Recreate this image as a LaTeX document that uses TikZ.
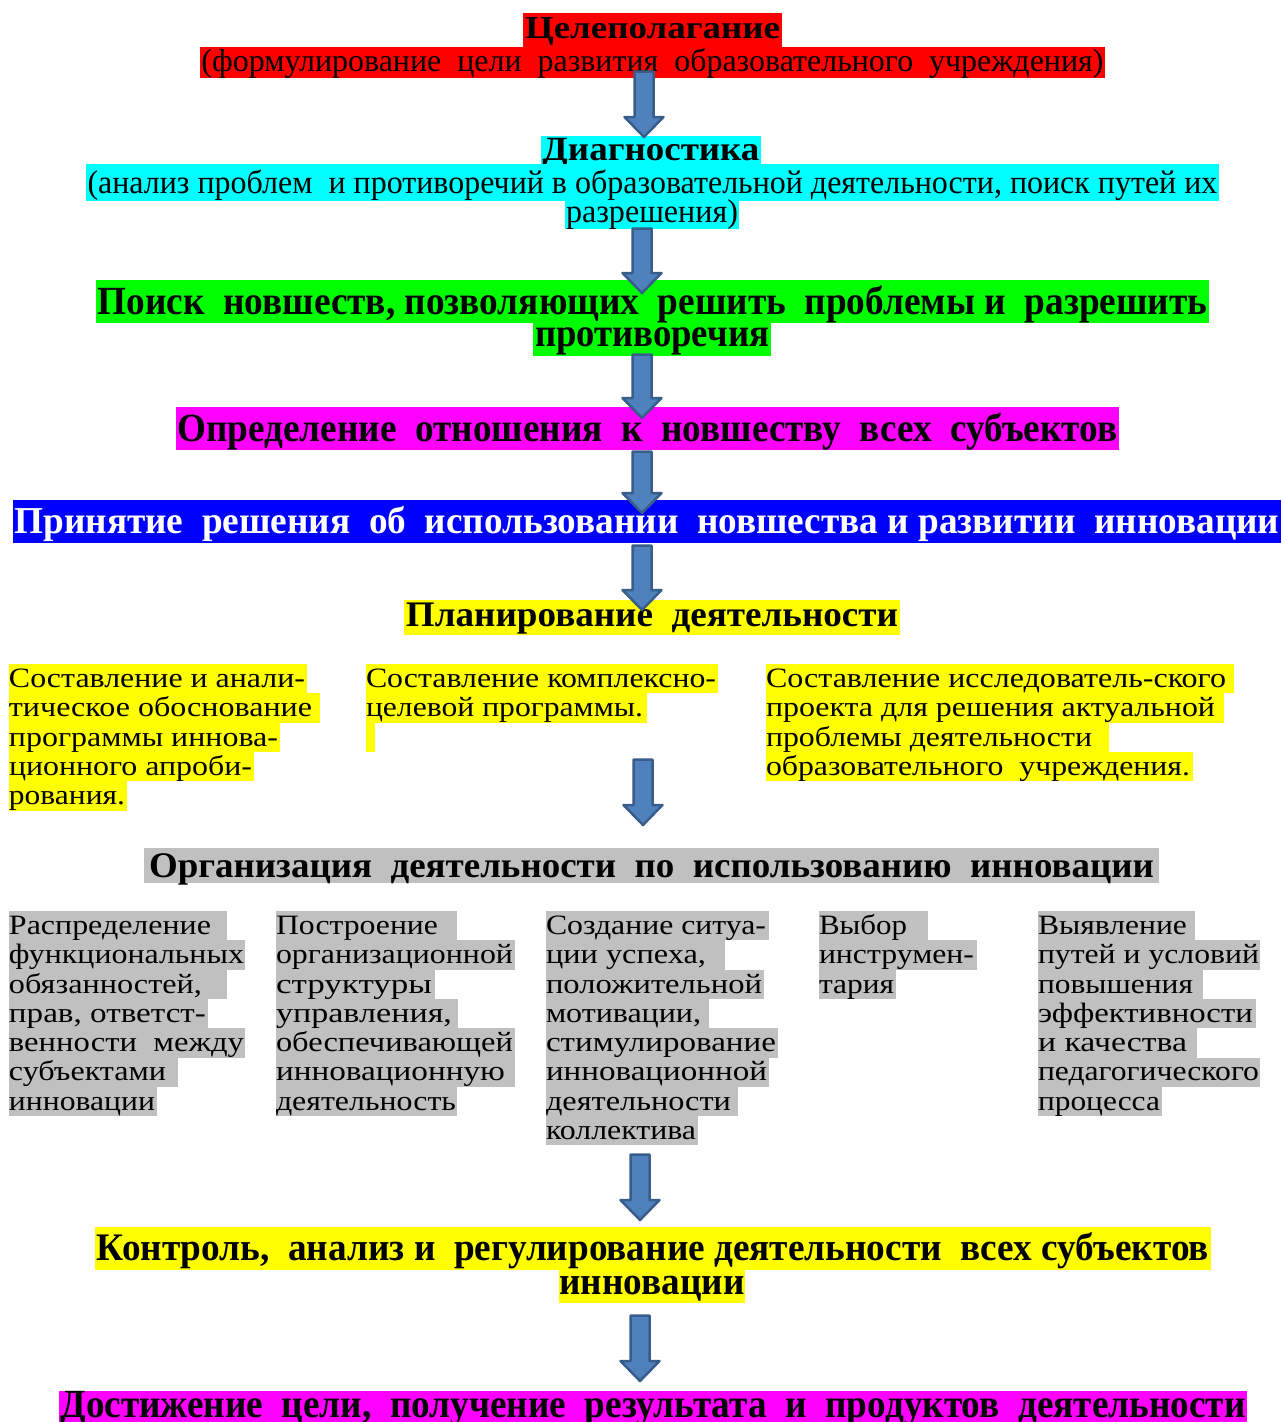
\documentclass[tikz,border=0pt]{standalone}
\usepackage{fontspec}
\setmainfont{Liberation Serif}
\usepackage{graphicx}
\usetikzlibrary{calc}
\definecolor{hlred}{HTML}{FF0000}
\definecolor{hlcyan}{HTML}{00FFFF}
\definecolor{hlgreen}{HTML}{00FF00}
\definecolor{hlmag}{HTML}{FF00FF}
\definecolor{hlblue}{HTML}{0000FF}
\definecolor{hlyel}{HTML}{FFFF00}
\definecolor{hlgray}{HTML}{C0C0C0}
\definecolor{arrfill}{HTML}{4F81BD}
\definecolor{arrdraw}{HTML}{385D8A}
\tikzset{
  hlbox/.style={anchor=north west, inner sep=0pt, outer sep=0pt},
  fb/.style={font=\fontsize{#1}{#1}\selectfont\bfseries},
  fr/.style={font=\fontsize{#1}{#1}\selectfont},
  barr/.style={fill=arrfill, draw=arrdraw, line width=2.5pt, line join=round},
}
\newcommand\hlratio{0.8}
% #1 options, #2 name, #3 x1, #4 y1, #5 x2, #6 y2, #7 align, #8 text width, #9 text
\newcommand\hlrow[9]{%
  \pgfmathsetmacro\hlH{#6-#4}%
  \pgfmathsetmacro\hlA{\hlH*\hlratio}%
  \pgfmathsetmacro\hlD{\hlH-\hlA}%
  \node[hlbox,#1,text height=\hlA pt,text depth=\hlD pt] (#2) at (#3,#4)
    {\makebox[\dimexpr#5pt-#3pt\relax][#7]{\resizebox{#8pt}{\height}{#9}}};}
\newcommand\barrow[2]{%
  \draw[barr] ($(#1)+(-9.5,1.5)$) -- ($(#2)+(-9.5,-22)$) -- ($(#2)+(-19.5,-22)$)
    -- ($(#2)+(0,-2)$) -- ($(#2)+(19.5,-22)$) -- ($(#2)+(9.5,-22)$)
    -- ($(#1)+(9.5,1.5)$) -- cycle;}
\begin{document}
\begin{tikzpicture}[x=1pt,y=-1pt]
\useasboundingbox (0,0) rectangle (1281,1422);
\fill[white] (0,0) rectangle (1281,1422);

% --- headings ---
\renewcommand\hlratio{0.76}
\hlrow{fb=32,fill=hlred}{goal}{523}{13}{782}{47}{c}{255}{Целеполагание}
\renewcommand\hlratio{0.8}
\hlrow{fr=32,fill=hlred}{goalsub}{200}{47}{1105}{78}{c}{902}{(формулирование\ \ цели\ \ развития\ \ образовательного\ \ учреждения)}

\renewcommand\hlratio{0.86}
\hlrow{fb=34,fill=hlcyan}{diag}{541}{136}{761}{164}{c}{217}{Диагностика}
\renewcommand\hlratio{0.8}
\hlrow{fr=33,fill=hlcyan}{diagsub}{86}{164}{1219}{201}{c}{1130}{(анализ проблем\ \ и противоречий в образовательной деятельности, поиск путей их}
\renewcommand\hlratio{0.75}
\hlrow{fr=33,fill=hlcyan}{diagsubb}{565}{201}{739}{229}{c}{172}{разрешения)}

\renewcommand\hlratio{0.81}
\hlrow{fb=40,fill=hlgreen}{search}{96}{280}{1209}{323}{c}{1110}{Поиск\ \ новшеств, позволяющих\ \ решить\ \ проблемы и\ \ разрешить}
\renewcommand\hlratio{0.7}
\hlrow{fb=40,fill=hlgreen}{searchb}{533}{323}{771}{356}{c}{234}{противоречия}

\renewcommand\hlratio{0.81}
\hlrow{fb=40,fill=hlmag}{attitude}{176}{407}{1119}{450}{c}{940}{Определение\ \ отношения\ \ к\ \ новшеству\ \ всех\ \ субъектов}

\renewcommand\hlratio{0.77}
\hlrow{fb=38,fill=hlblue,text=white}{decision}{13}{500}{1281}{543}{c}{1265}{Принятие\ \ решения\ \ об\ \ использовании\ \ новшества и развитии\ \ инновации}

\hlrow{fb=36,fill=hlyel}{plan}{404}{600}{900}{635}{c}{492}{Планирование\ \ деятельности}

% --- planning columns ---
\renewcommand\hlratio{0.8}
\hlrow{fr=28,fill=hlyel}{pa1}{9}{664}{307}{693.3}{l}{296}{Составление и анали-}
\hlrow{fr=28,fill=hlyel}{pa2}{9}{693.3}{320}{722.6}{l}{303}{тическое обоснование}
\hlrow{fr=28,fill=hlyel}{pa3}{9}{722.6}{280}{751.9}{l}{269}{программы иннова-}
\hlrow{fr=28,fill=hlyel}{pa4}{9}{751.9}{254}{781.2}{l}{243}{ционного апроби-}
\hlrow{fr=28,fill=hlyel}{pa5}{9}{781.2}{127}{810.5}{l}{116}{рования.}

\hlrow{fr=28,fill=hlyel}{pb1}{366}{664}{718}{693.3}{l}{350}{Составление комплексно-}
\hlrow{fr=28,fill=hlyel}{pb2}{366}{693.3}{647}{722.6}{l}{277}{целевой программы.}
\node[hlbox,fill=hlyel,minimum width=9pt,minimum height=29.3pt] (pb3) at (366,722.6) {};

\hlrow{fr=28,fill=hlyel}{pc1}{766}{664}{1234}{693.3}{l}{460}{Составление исследователь-ского}
\hlrow{fr=28,fill=hlyel}{pc2}{766}{693.3}{1224}{722.6}{l}{449}{проекта для решения актуальной}
\hlrow{fr=28,fill=hlyel}{pc3}{766}{722.6}{1109}{751.9}{l}{326}{проблемы деятельности}
\hlrow{fr=28,fill=hlyel}{pc4}{766}{751.9}{1193}{781.2}{l}{424}{образовательного\ \ учреждения.}

% --- organisation ---
\renewcommand\hlratio{0.83}
\hlrow{fb=36,fill=hlgray}{org}{144}{848}{1159}{883}{c}{1005}{Организация\ \ деятельности\ \ по\ \ использованию\ \ инновации}

\renewcommand\hlratio{0.8}
\hlrow{fr=28,fill=hlgray}{oa1}{9}{911}{227}{940.3}{l}{202}{Распределение}
\hlrow{fr=28,fill=hlgray}{oa2}{9}{940.3}{245}{969.6}{l}{235}{функциональных}
\hlrow{fr=28,fill=hlgray}{oa3}{9}{969.6}{227}{998.9}{l}{193}{обязанностей,}
\hlrow{fr=28,fill=hlgray}{oa4}{9}{998.9}{208}{1028.2}{l}{197}{прав, ответст-}
\hlrow{fr=28,fill=hlgray}{oa5}{9}{1028.2}{245}{1057.5}{l}{235}{венности\ \ между}
\hlrow{fr=28,fill=hlgray}{oa6}{9}{1057.5}{178}{1086.8}{l}{157}{субъектами}
\hlrow{fr=28,fill=hlgray}{oa7}{9}{1086.8}{157}{1116.1}{l}{146}{инновации}

\hlrow{fr=28,fill=hlgray}{ob1}{276}{911}{457}{940.3}{l}{162}{Построение}
\hlrow{fr=28,fill=hlgray}{ob2}{276}{940.3}{515}{969.6}{l}{237}{организационной}
\hlrow{fr=28,fill=hlgray}{ob3}{276}{969.6}{435}{998.9}{l}{156}{структуры}
\hlrow{fr=28,fill=hlgray}{ob4}{276}{998.9}{458}{1028.2}{l}{176}{управления,}
\hlrow{fr=28,fill=hlgray}{ob5}{276}{1028.2}{515}{1057.5}{l}{237}{обеспечивающей}
\hlrow{fr=28,fill=hlgray}{ob6}{276}{1057.5}{515}{1086.8}{l}{229}{инновационную}
\hlrow{fr=28,fill=hlgray}{ob7}{276}{1086.8}{457}{1116.1}{l}{180}{деятельность}

\hlrow{fr=28,fill=hlgray}{oc1}{546}{911}{769}{940.3}{l}{220}{Создание ситуа-}
\hlrow{fr=28,fill=hlgray}{oc2}{546}{940.3}{725}{969.6}{l}{160}{ции успеха,}
\hlrow{fr=28,fill=hlgray}{oc3}{546}{969.6}{764}{998.9}{l}{216}{положительной}
\hlrow{fr=28,fill=hlgray}{oc4}{546}{998.9}{709}{1028.2}{l}{155}{мотивации,}
\hlrow{fr=28,fill=hlgray}{oc5}{546}{1028.2}{778}{1057.5}{l}{230}{стимулирование}
\hlrow{fr=28,fill=hlgray}{oc6}{546}{1057.5}{769}{1086.8}{l}{221}{инновационной}
\hlrow{fr=28,fill=hlgray}{oc7}{546}{1086.8}{738}{1116.1}{l}{185}{деятельности}
\hlrow{fr=28,fill=hlgray}{oc8}{546}{1116.1}{698}{1145.4}{l}{150}{коллектива}

\hlrow{fr=28,fill=hlgray}{od1}{819}{911}{928}{940.3}{l}{88}{Выбор}
\hlrow{fr=28,fill=hlgray}{od2}{819}{940.3}{977}{969.6}{l}{155}{инструмен-}
\hlrow{fr=28,fill=hlgray}{od3}{819}{969.6}{896}{998.9}{l}{75}{тария}

\hlrow{fr=28,fill=hlgray}{oe1}{1038}{911}{1195}{940.3}{l}{149}{Выявление}
\hlrow{fr=28,fill=hlgray}{oe2}{1038}{940.3}{1260}{969.6}{l}{221}{путей и условий}
\hlrow{fr=28,fill=hlgray}{oe3}{1038}{969.6}{1203}{998.9}{l}{155}{повышения}
\hlrow{fr=28,fill=hlgray}{oe4}{1038}{998.9}{1256}{1028.2}{l}{215}{эффективности}
\hlrow{fr=28,fill=hlgray}{oe5}{1038}{1028.2}{1197}{1057.5}{l}{149}{и качества}
\hlrow{fr=28,fill=hlgray}{oe6}{1038}{1057.5}{1260}{1086.8}{l}{221}{педагогического}
\hlrow{fr=28,fill=hlgray}{oe7}{1038}{1086.8}{1162}{1116.1}{l}{122}{процесса}

% --- control and result ---
\renewcommand\hlratio{0.79}
\hlrow{fb=39,fill=hlyel}{control}{95}{1227}{1211}{1270}{c}{1112}{Контроль,\ \ анализ и\ \ регулирование деятельности\ \ всех субъектов}
\renewcommand\hlratio{0.73}
\hlrow{fb=39,fill=hlyel}{controlb}{559}{1270}{745}{1303}{c}{185}{инновации}

\renewcommand\hlratio{0.87}
\hlrow{fb=40,fill=hlmag}{result}{59}{1391}{1247}{1422}{c}{1185}{Достижение\ \ цели,\ \ получение\ \ результата\ \ и\ \ продуктов\ \ деятельности}

% --- block arrows ---
\coordinate (a1t) at (644,70);   \coordinate (a1b) at (644,139);
\coordinate (a2t) at (642,227);  \coordinate (a2b) at (642,295);
\coordinate (a3t) at (642,353);  \coordinate (a3b) at (642,420);
\coordinate (a4t) at (642,450);  \coordinate (a4b) at (642,515);
\coordinate (a5t) at (642,544);  \coordinate (a5b) at (642,612);
\coordinate (a6t) at (643,758);  \coordinate (a6b) at (643,827);
\coordinate (a7t) at (640,1153); \coordinate (a7b) at (640,1222);
\coordinate (a8t) at (640,1314); \coordinate (a8b) at (640,1383);
\barrow{a1t}{a1b}
\barrow{a2t}{a2b}
\barrow{a3t}{a3b}
\barrow{a4t}{a4b}
\barrow{a5t}{a5b}
\barrow{a6t}{a6b}
\barrow{a7t}{a7b}
\barrow{a8t}{a8b}
\end{tikzpicture}
\end{document}
